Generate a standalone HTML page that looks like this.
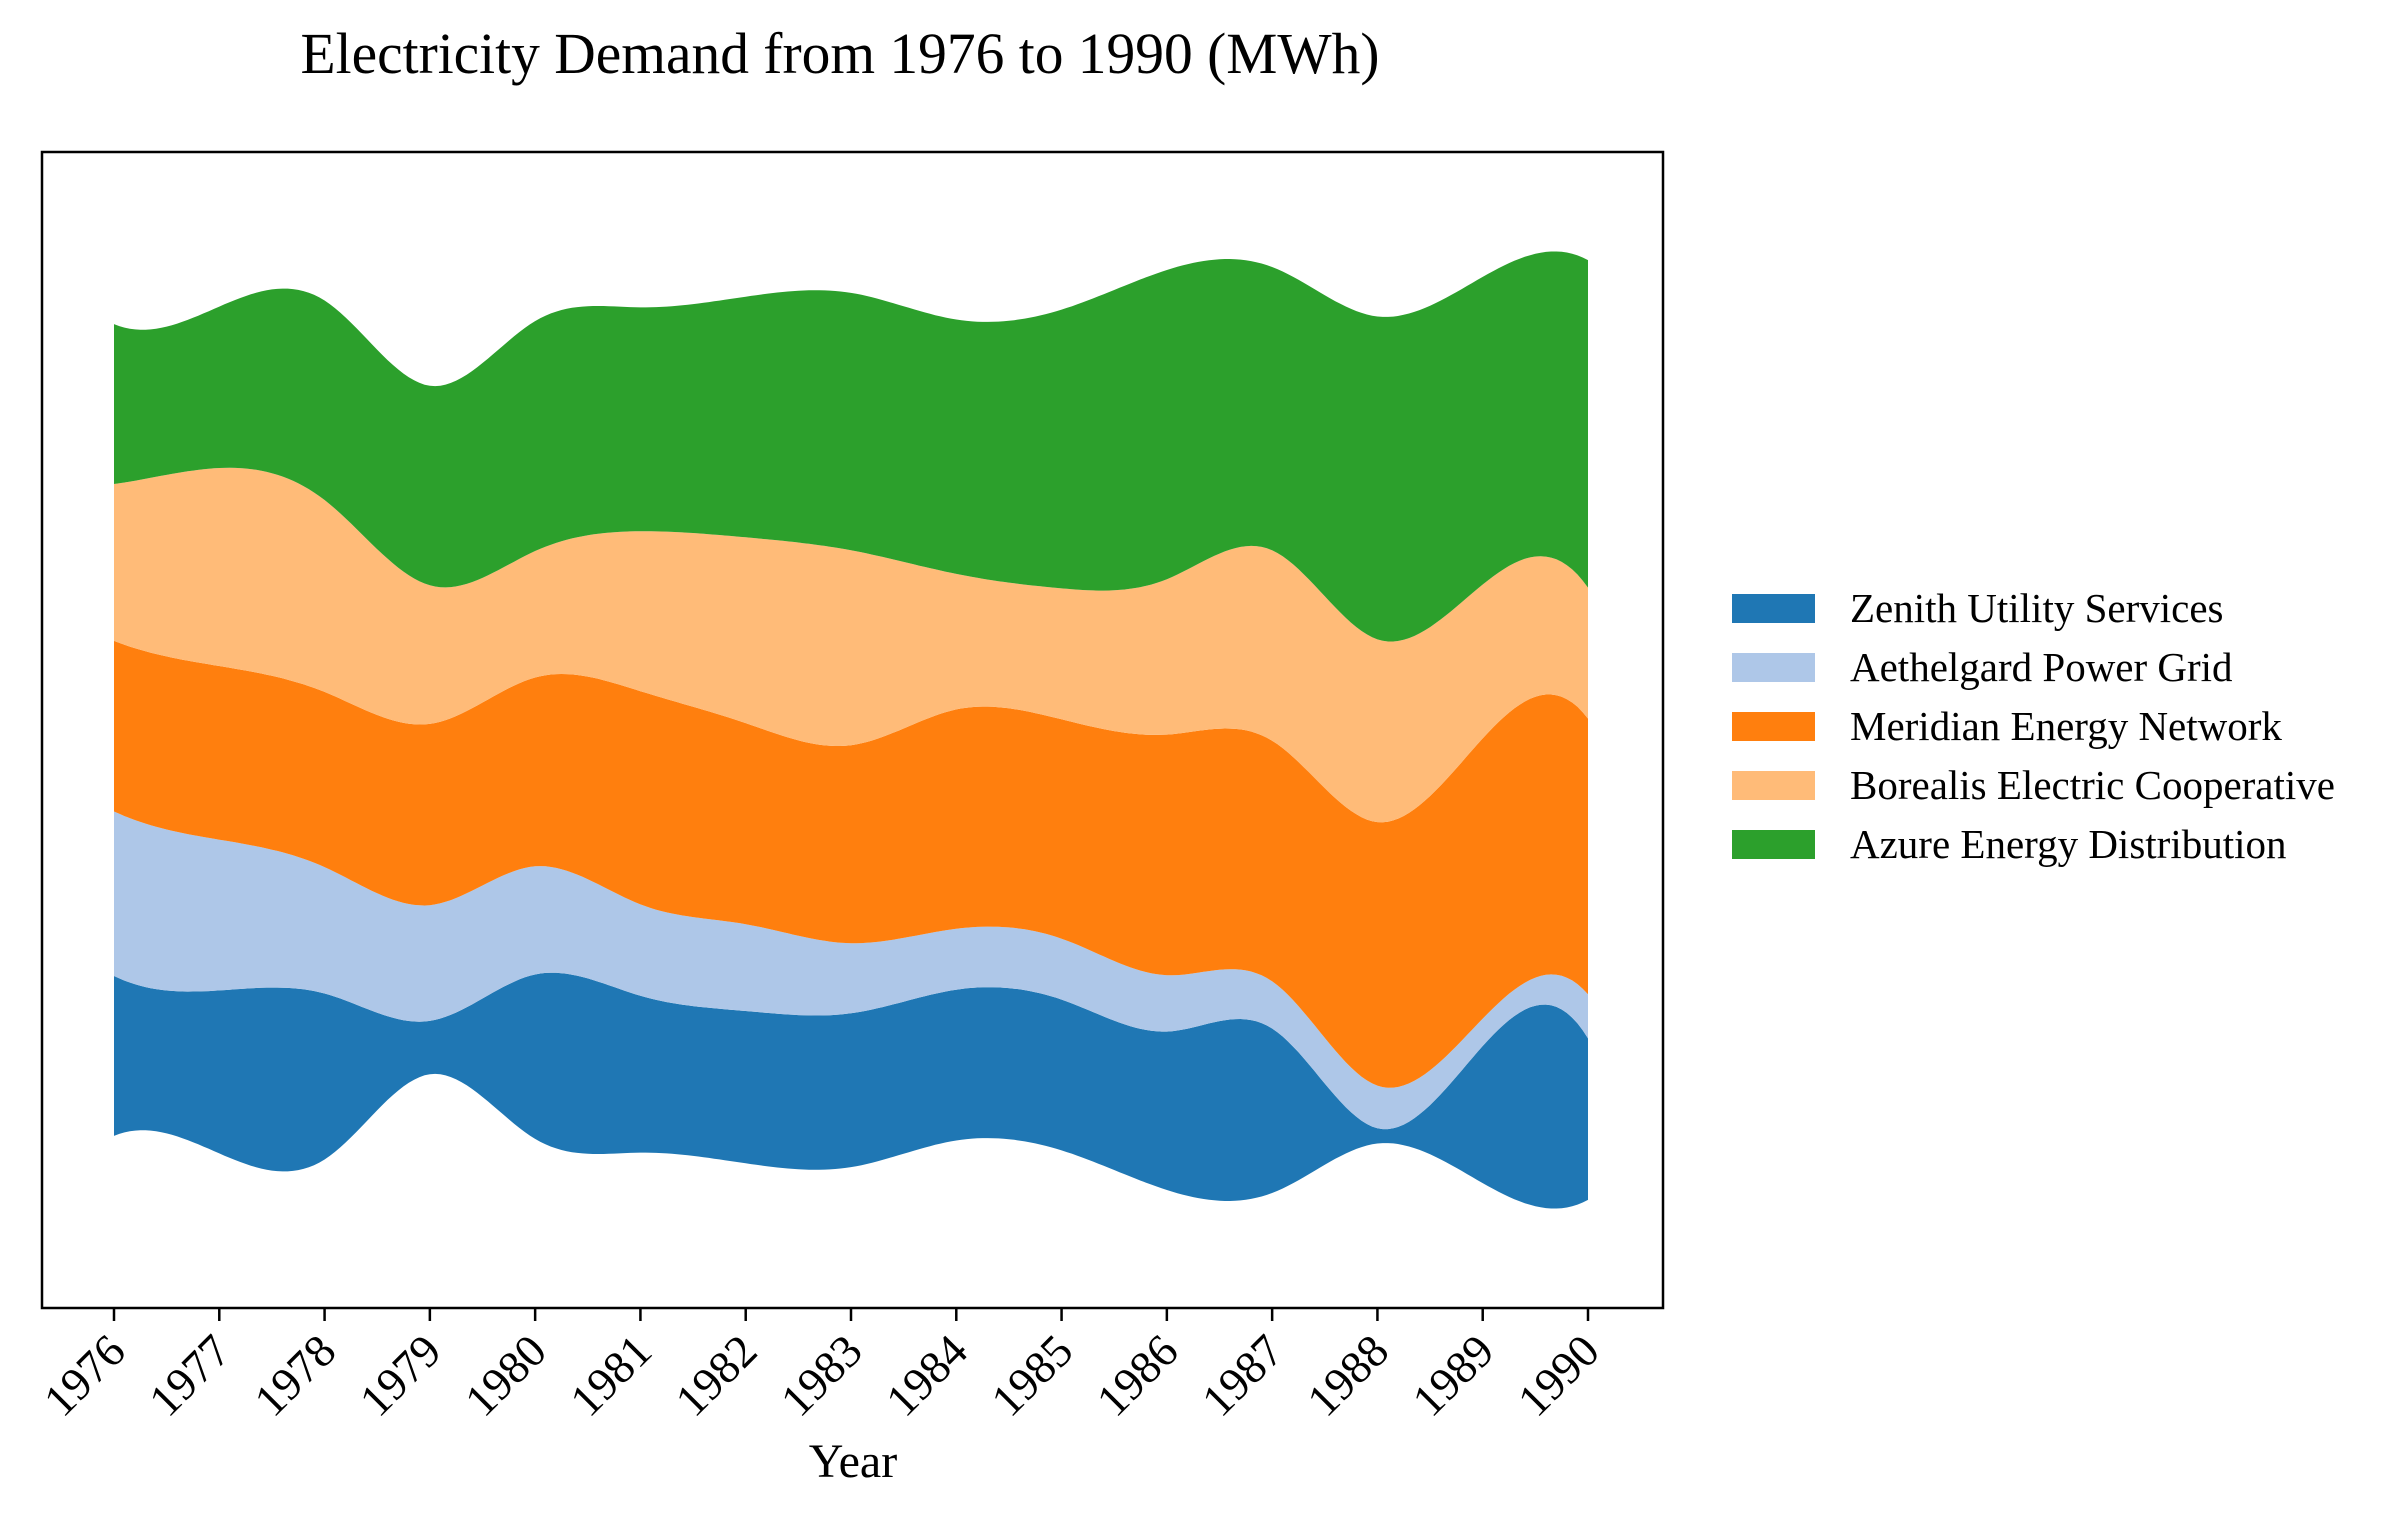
<!DOCTYPE html>
<html><head><meta charset="utf-8"><style>
html,body{margin:0;padding:0;background:#fff;}
svg{display:block;font-family:"Liberation Serif",serif;}
</style></head><body>
<svg id="chart" width="2387" height="1516" viewBox="0 0 2387 1516" xmlns="http://www.w3.org/2000/svg">
<rect x="0" y="0" width="2387" height="1516" fill="#fff"/>
<text x="840" y="73" font-size="58" text-anchor="middle" textLength="1079" lengthAdjust="spacingAndGlyphs">Electricity Demand from 1976 to 1990 (MWh)</text>
<g id="layers"></g>
<rect x="42" y="152" width="1621" height="1156" fill="none" stroke="#000" stroke-width="2.5"/>
<g id="xticks"></g>
<text x="853" y="1477" font-size="48" text-anchor="middle">Year</text>
<g id="legend"></g>
</svg>
<script>
const years = [1976,1977,1978,1979,1980,1981,1982,1983,1984,1985,1986,1987,1988,1989,1990];
const seriesNames = ["Zenith Utility Services","Aethelgard Power Grid","Meridian Energy Network","Borealis Electric Cooperative","Azure Energy Distribution"];
const seriesColors = ["#1f77b4","#aec7e8","#ff7f0e","#ffbb78","#2ca02c"];
const zenith     = [1050,1070,1090, 350,1080,1030,1000,1010, 990, 990,1040,1080, 100, 900,1060];
const aethelgard = [1080, 990, 830, 760, 710, 600, 570, 460, 400, 400, 370, 310, 280, 180, 290];
const meridian   = [1120,1140,1150,1190,1240,1400,1320,1300,1440,1440,1580,1580,1730,1840,1810];
const borealis   = [1030,1300,1260, 910, 830,1050,1220,1280, 890, 860,1020,1250,1200,1010, 860];
const azure      = [1050,1060,1310,1310,1510,1470,1580,1690,1670,1830,2030,1860,2120,2020,2150];
const yDomain = [-3795, 3795];

const NS="http://www.w3.org/2000/svg";
const plot={l:42,t:152,r:1663,b:1308};
function xScale(yr){return 114+(yr-years[0])*(1588-114)/(years[years.length-1]-years[0]);}
function yScale(v){return plot.b-(v-yDomain[0])/(yDomain[1]-yDomain[0])*(plot.b-plot.t);}
const series=[zenith,aethelgard,meridian,borealis,azure];
const bounds=[];
const base=years.map((_,i)=>-series.reduce((s,a)=>s+a[i],0)/2);
bounds.push(base.slice());
let cum=base.slice();
series.forEach(s=>{cum=cum.map((c,i)=>c+s[i]);bounds.push(cum.slice());});
// not-a-knot cubic spline (uniform spacing)
function spline(xs,ys){
 const n=xs.length,h=xs[1]-xs[0];
 const A=[],B=[];
 for(let i=0;i<n;i++){A.push(new Array(n).fill(0));B.push(0);}
 A[0][0]=1;A[0][1]=-2;A[0][2]=1;
 A[n-1][n-3]=1;A[n-1][n-2]=-2;A[n-1][n-1]=1;
 for(let i=1;i<n-1;i++){A[i][i-1]=h;A[i][i]=4*h;A[i][i+1]=h;B[i]=6*((ys[i+1]-ys[i])/h-(ys[i]-ys[i-1])/h);}
 for(let c=0;c<n;c++){let p=c;for(let r=c+1;r<n;r++)if(Math.abs(A[r][c])>Math.abs(A[p][c]))p=r;
  [A[c],A[p]]=[A[p],A[c]];[B[c],B[p]]=[B[p],B[c]];
  for(let r=0;r<n;r++){if(r===c)continue;const f=A[r][c]/A[c][c];if(!f)continue;for(let k=c;k<n;k++)A[r][k]-=f*A[c][k];B[r]-=f*B[c];}}
 const M=B.map((b,i)=>b/A[i][i]);
 return x=>{let j=Math.min(n-2,Math.max(0,Math.floor((x-xs[0])/h)));
  const a=xs[j+1]-x,b=x-xs[j];
  return M[j]*a*a*a/(6*h)+M[j+1]*b*b*b/(6*h)+(ys[j]/h-M[j]*h/6)*a+(ys[j+1]/h-M[j+1]*h/6)*b;};
}
const fine=[];for(let t=years[0];t<=years[years.length-1]+1e-9;t+=0.05)fine.push(Math.min(t,years[years.length-1]));
const curves=bounds.map(bd=>{const f=spline(years,bd);return fine.map(t=>[xScale(t),yScale(f(t))]);});
const layers=document.getElementById('layers');
for(let k=0;k<series.length;k++){
 const lo=curves[k],hi=curves[k+1];
 let d="M"+hi.map(p=>p[0].toFixed(1)+","+p[1].toFixed(1)).join("L");
 d+="L"+lo.slice().reverse().map(p=>p[0].toFixed(1)+","+p[1].toFixed(1)).join("L")+"Z";
 const p=document.createElementNS(NS,'path');
 p.setAttribute('d',d);p.setAttribute('fill',seriesColors[k]);
 
 
 layers.appendChild(p);
}
const xt=document.getElementById('xticks');
years.forEach(yr=>{
 const x=xScale(yr);
 const ln=document.createElementNS(NS,'line');
 ln.setAttribute('x1',x);ln.setAttribute('x2',x);ln.setAttribute('y1',plot.b);ln.setAttribute('y2',plot.b+13);
 ln.setAttribute('stroke','#000');ln.setAttribute('stroke-width','2.5');
 
 
 xt.appendChild(ln);
 const t=document.createElementNS(NS,'text');
 t.setAttribute('transform','translate('+(x+4)+','+(plot.b+36)+') rotate(-45)');
 t.setAttribute('text-anchor','end');t.setAttribute('font-size','46');t.setAttribute('dy','0.3em');
 t.textContent=yr;
 
 
 xt.appendChild(t);
});
const lg=document.getElementById('legend');
seriesNames.forEach((nm,i)=>{
 const y=594+i*59;
 const r=document.createElementNS(NS,'rect');
 r.setAttribute('x',1732);r.setAttribute('y',y);r.setAttribute('width',83);r.setAttribute('height',29);r.setAttribute('fill',seriesColors[i]);
 
 
 lg.appendChild(r);
 const t=document.createElementNS(NS,'text');
 t.setAttribute('x',1850);t.setAttribute('y',y+28);t.setAttribute('font-size','41');
 t.textContent=nm;
 
 
 lg.appendChild(t);
});
</script>
</body></html>
